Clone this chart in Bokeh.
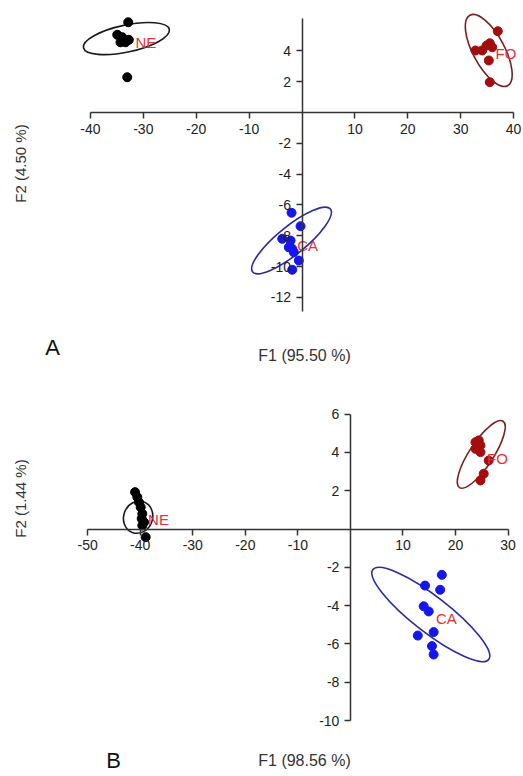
import numpy as np
from bokeh.plotting import figure
from bokeh.layouts import column
from bokeh.models import LinearAxis, FixedTicker, Label
from bokeh.core.properties import value
from bokeh.embed import file_html
from bokeh.resources import INLINE

# ---------------- Panel A data ----------------
a_ne_x = [-32.85, -34.93, -33.99, -34.31, -33.36, -32.74, -33.04]
a_ne_y = [5.86, 5.05, 4.89, 4.56, 4.56, 4.72, 2.29]
a_fo_x = [37.01, 35.50, 35.95, 34.06, 32.80, 35.31, 35.50, 34.88]
a_fo_y = [5.28, 4.50, 4.24, 4.03, 4.03, 3.38, 1.97, 4.35]
a_ca_x = [-1.98, -0.28, -3.74, -2.17, -2.50, -1.85, -1.55, -0.60, -1.85]
a_ca_y = [-6.51, -7.38, -8.20, -8.31, -8.75, -8.85, -9.07, -9.61, -10.21]
# ellipses: centre x, centre y, width (x units), height (y units), angle (rad)
a_ell_x = [-33.2, 35.3, -1.98]
a_ell_y = [4.8, 4.03, -8.31]
a_ell_w = [16.6, 15.1, 18.9]
a_ell_h = [1.75, 2.05, 1.82]
a_ell_ang = [0.21, -1.08, 0.68]
a_lab = ["NE", "FO", "CA"]
a_lab_x = [-31.5, 36.6, -0.9]
a_lab_y = [4.56, 3.81, -8.64]
a_xticks = [-40, -30, -20, -10, 10, 20, 30, 40]
a_yticks = [-12, -10, -8, -6, -4, -2, 2, 4]

# ---------------- Panel B data ----------------
b_ne_x = [-40.98, -40.55, -40.23, -39.91, -39.60, -39.72, -39.28, -39.60, -38.96]
b_ne_y = [1.93, 1.67, 1.40, 1.14, 0.80, 0.54, 0.36, 0.19, -0.42]
b_fo_x = [23.80, 24.43, 24.75, 23.80, 24.75, 26.31, 25.37, 24.75]
b_fo_y = [4.54, 4.63, 4.37, 4.19, 4.02, 3.58, 2.89, 2.54]
b_ca_x = [17.40, 14.20, 17.08, 13.95, 14.90, 15.84, 12.82, 15.52, 15.84]
b_ca_y = [-2.39, -2.95, -3.17, -4.03, -4.30, -5.38, -5.56, -6.11, -6.55]
b_ell_x = [-40.4, 24.9, 15.3]
b_ell_y = [0.62, 3.9, -4.46]
b_ell_w = [6.2, 15.1, 27.9]
b_ell_h = [1.51, 1.25, 1.88]
b_ell_ang = [1.2, 0.99, -0.66]
b_lab = ["NE", "FO", "CA"]
b_lab_x = [-38.5, 26.0, 16.27]
b_lab_y = [0.49, 3.67, -4.68]
b_xticks = [-50, -40, -30, -20, -10, 10, 20, 30]
b_yticks = [-10, -8, -6, -4, -2, 2, 4, 6]

FONT = "Liberation Sans"
COL_NE, COL_FO, COL_CA = "#000000", "#a30d0d", "#1515ee"
ELL_COLS = ["#1a1a1a", "#7a1f1f", "#2b2b9c"]
LAB_COL = "#e2323c"


def style_axis(ax, ticks, bounds=None):
    ax.ticker = FixedTicker(ticks=ticks)
    ax.major_label_overrides = {t: str(t) for t in ticks}
    ax.fixed_location = 0
    ax.axis_line_color = "#333333"
    ax.axis_line_width = 1.5
    ax.major_tick_line_color = "#333333"
    ax.major_tick_line_width = 1.5
    ax.major_tick_out = 6
    ax.major_tick_in = 0
    ax.minor_tick_out = 0
    ax.minor_tick_in = 0
    ax.major_label_text_font = FONT
    ax.major_label_text_font_size = "14px"
    ax.major_label_text_color = "#222222"
    ax.major_label_standoff = 5
    if bounds is not None:
        ax.bounds = bounds


def make_panel(h, xr, yr, groups, ell, labs, xticks, yticks, xb, yb,
               xtitle, ytitle, letter, xt_pos, yt_pos, let_pos):
    p = figure(width=523, height=h, x_range=xr, y_range=yr,
               output_backend="svg", toolbar_location=None,
               x_axis_location=None, y_axis_location=None,
               min_border_left=0, min_border_right=0,
               min_border_top=0, min_border_bottom=0)
    p.grid.visible = False
    p.outline_line_color = None
    xa = LinearAxis()
    style_axis(xa, xticks, xb)
    p.add_layout(xa, "below")
    ya = LinearAxis()
    style_axis(ya, yticks, yb)
    p.add_layout(ya, "left")

    ex, ey, ew, eh, ea = ell
    p.ellipse(x=ex, y=ey, width=ew, height=eh, angle=ea,
              fill_color=None, line_color=ELL_COLS, line_width=1.6)
    for gx, gy, c in groups:
        p.scatter(gx, gy, size=9, color=c)
    lt, lx, ly = labs
    p.text(x=lx, y=ly, text=lt, text_font=value(FONT),
           text_font_size="15px", text_color=LAB_COL,
           text_align="left", text_baseline="middle")

    p.add_layout(Label(x=xt_pos[0], y=xt_pos[1], x_units="screen", y_units="screen",
                       text=xtitle, text_font=FONT, text_font_size="16px",
                       text_color="#333333", text_align="center",
                       text_baseline="middle"))
    p.add_layout(Label(x=yt_pos[0], y=yt_pos[1], x_units="screen", y_units="screen",
                       text=ytitle, text_font=FONT, text_font_size="15px",
                       text_color="#333333", text_align="center",
                       text_baseline="middle", angle=np.pi / 2))
    p.add_layout(Label(x=let_pos[0], y=let_pos[1], x_units="screen", y_units="screen",
                       text=letter, text_font=FONT, text_font_size="22px",
                       text_color="#111111", text_align="center",
                       text_baseline="middle"))
    return p


pA = make_panel(386, (-57.0, 41.87), (-17.79, 7.273),
                [(a_ne_x, a_ne_y, COL_NE), (a_fo_x, a_fo_y, COL_FO), (a_ca_x, a_ca_y, COL_CA)],
                (a_ell_x, a_ell_y, a_ell_w, a_ell_h, a_ell_ang),
                (a_lab, a_lab_x, a_lab_y),
                a_xticks, a_yticks, (-40, 40), (-12.9, 6.1),
                "F1 (95.50 %)", "F2 (4.50 %)", "A",
                (304, 31), (20, 223), (52, 39))

pB = make_panel(390, (-66.59, 32.94), (-12.92, 7.446),
                [(b_ne_x, b_ne_y, COL_NE), (b_fo_x, b_fo_y, COL_FO), (b_ca_x, b_ca_y, COL_CA)],
                (b_ell_x, b_ell_y, b_ell_w, b_ell_h, b_ell_ang),
                (b_lab, b_lab_x, b_lab_y),
                b_xticks, b_yticks, (-50, 30), (-10, 6),
                "F1 (98.56 %)", "F2 (1.44 %)", "B",
                (304, 16), (20, 278), (113, 16))

layout = column(pA, pB)
open("out.html", "w").write(file_html(layout, INLINE))
